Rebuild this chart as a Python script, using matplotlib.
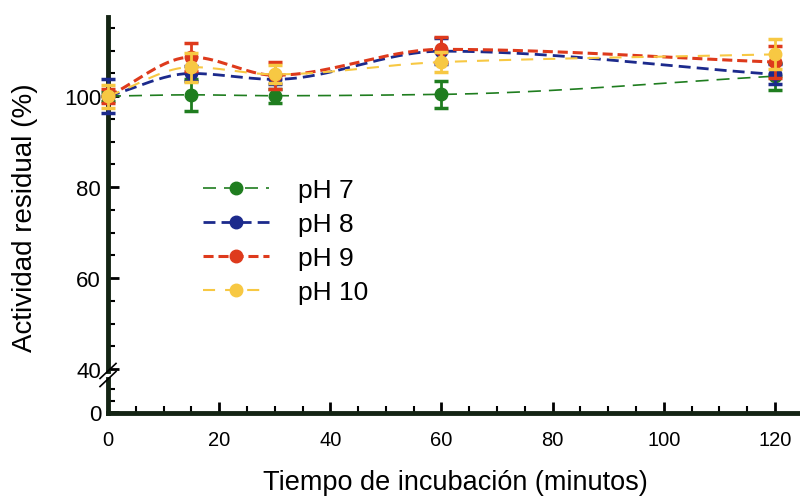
import numpy as np
import matplotlib
matplotlib.use("Agg")
import matplotlib.pyplot as plt
from matplotlib.lines import Line2D

plt.rcParams['font.family'] = ['Liberation Sans', 'DejaVu Sans']

# data
tiempo = [0, 15, 30, 60, 120]
ph7 = [100.0, 100.3, 100.1, 100.4, 104.4]
ph7_err = [1.0, 3.5, 1.5, 2.9, 3.0]
ph8 = [100.0, 105.0, 103.7, 109.9, 104.8]
ph8_err = [3.8, 1.7, 1.0, 2.8, 2.2]
ph9 = [100.0, 108.6, 104.6, 110.3, 107.5]
ph9_err = [1.5, 3.0, 3.0, 2.7, 3.5]
ph10 = [100.0, 106.4, 104.8, 107.5, 109.2]
ph10_err = [2.5, 3.2, 2.0, 2.2, 3.3]
labels = ['pH 7', 'pH 8', 'pH 9', 'pH 10']

colors = ['#1f7d1f', '#1c2a8c', '#de3a1c', '#f7c843']
widths = [1.2, 2.0, 2.2, 1.5]
dashes = [(7.8, 4.8), (4.3, 2.2), (3.3, 1.6), (5.8, 4.8)]
spine_col = '#142414'


def smooth(x, y, n=300):
    # monotone cubic (pchip) curve between the measured points
    x = np.asarray(x, float)
    y = np.asarray(y, float)
    h = np.diff(x)
    delta = np.diff(y) / h
    m = len(x)
    d = np.zeros(m)
    d[0], d[-1] = delta[0], delta[-1]
    for k in range(1, m - 1):
        if delta[k - 1] * delta[k] > 0:
            w1 = 2 * h[k] + h[k - 1]
            w2 = h[k] + 2 * h[k - 1]
            d[k] = (w1 + w2) / (w1 / delta[k - 1] + w2 / delta[k])
    xs = np.linspace(x[0], x[-1], n)
    idx = np.clip(np.searchsorted(x, xs) - 1, 0, m - 2)
    t = (xs - x[idx]) / h[idx]
    h00 = 2 * t ** 3 - 3 * t ** 2 + 1
    h10 = t ** 3 - 2 * t ** 2 + t
    h01 = -2 * t ** 3 + 3 * t ** 2
    h11 = t ** 3 - t ** 2
    ys = h00 * y[idx] + h10 * h[idx] * d[idx] + h01 * y[idx + 1] + h11 * h[idx] * d[idx + 1]
    return xs, ys


fig = plt.figure(figsize=(8, 5.02), dpi=100)
ax = fig.add_axes([0.135, 0.259, 0.865, 0.705])
ax_lo = fig.add_axes([0.135, 0.175, 0.865, 0.068])

series = [(ph7, ph7_err), (ph8, ph8_err), (ph9, ph9_err), (ph10, ph10_err)]
handles = []
for k, (vals, errs) in enumerate(series):
    xs, ys = smooth(tiempo, vals)
    ax.plot(xs, ys, color=colors[k], lw=widths[k], dashes=dashes[k], zorder=2 + k)
    ax.errorbar(tiempo, vals, yerr=errs, fmt='o', color=colors[k], ms=9,
                elinewidth=2, capsize=5, capthick=2.5, zorder=3 + k, clip_on=False)
    handles.append(Line2D([], [], color=colors[k], lw=widths[k], dashes=dashes[k],
                          marker='o', ms=9))

ax.set_xlim(0, 124.5)
ax.set_ylim(39.56, 117.4)
ax_lo.set_xlim(0, 124.5)
ax_lo.set_ylim(-0.5, 14.5)

for a in (ax, ax_lo):
    a.spines['right'].set_visible(False)
    a.spines['top'].set_visible(False)
    a.spines['left'].set_linewidth(3.5)
    a.spines['left'].set_color(spine_col)
    a.patch.set_alpha(0)
ax.spines['bottom'].set_visible(False)
ax_lo.spines['bottom'].set_linewidth(3.5)
ax_lo.spines['bottom'].set_color(spine_col)

ax.set_yticks([40, 60, 80, 100])
ax.set_yticks(np.arange(40, 116, 5), minor=True)
ax.set_xticks([])
ax.tick_params(axis='y', direction='in', length=8, width=2, labelsize=16, pad=5)
ax.tick_params(axis='y', which='minor', direction='in', length=5, width=1.5)

ax_lo.set_yticks([0])
ax_lo.set_yticks([5, 10], minor=True)
ax_lo.set_xticks(np.arange(0, 121, 20))
ax_lo.set_xticks(np.arange(0, 125, 5), minor=True)
ax_lo.tick_params(axis='both', direction='in', length=8, width=2, labelsize=14.5, pad=6)
ax_lo.tick_params(axis='y', labelsize=16, pad=5)
ax_lo.tick_params(axis='both', which='minor', direction='in', length=5, width=1.5)
ax_lo.tick_params(axis='x', pad=12)

# break marks on the y axis
kw = dict(transform=fig.transFigure, color='black', lw=1.2, clip_on=False)
for yb in (0.259, 0.243):
    fig.add_artist(Line2D([0.125, 0.145], [yb - 0.015, yb + 0.015], **kw))

ax.legend(handles, labels, loc='upper left', bbox_to_anchor=(0.237, 0.669),
          bbox_transform=fig.transFigure, frameon=False, fontsize=19,
          handlelength=2.5, handletextpad=1.1, labelspacing=0.38, borderpad=0)

fig.text(0.031, 0.566, 'Actividad residual (%)', rotation=90, ha='center',
         va='center', fontsize=20)
fig.text(0.569, 0.038, 'Tiempo de incubación (minutos)', ha='center',
         va='center', fontsize=19.5)

fig.savefig('out.png', dpi=100)
